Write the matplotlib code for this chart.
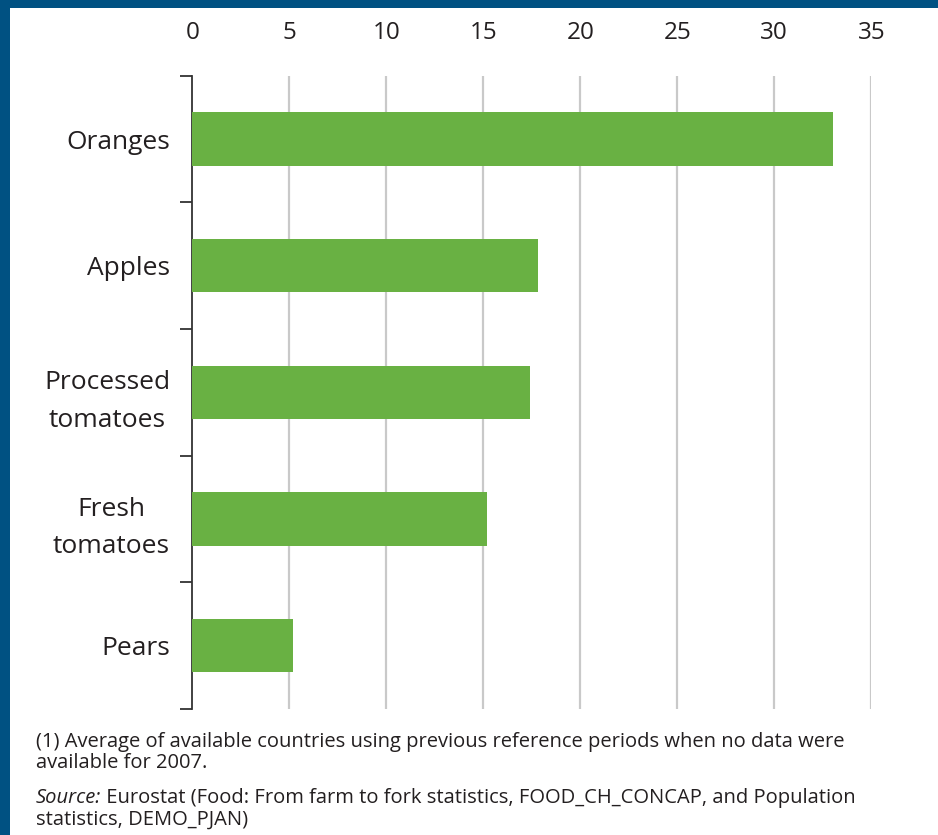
import matplotlib.pyplot as plt
from matplotlib.patches import Rectangle
import numpy as np

# Consumption per inhabitant, kg
products = ["Oranges", "Apples", "Processed\ntomatoes", "Fresh\ntomatoes", "Pears"]
values = [33.0, 17.8, 17.4, 15.2, 5.2]
x_ticks = [0, 5, 10, 15, 20, 25, 30, 35]

note_lines = ["(1) Average of available countries using previous reference periods when no data were",
              "available for 2007."]
source_label = "Source:"
source_lines = [" Eurostat (Food: From farm to fork statistics, FOOD_CH_CONCAP, and Population",
                "statistics, DEMO_PJAN)"]

blue = "#005182"
green = "#69b143"
grid_gray = "#c9c9c9"
text_col = "#231f20"

plt.rcParams['font.family'] = ['Open Sans', 'DejaVu Sans']

W, H = 938, 835
fig = plt.figure(figsize=(W / 100, H / 100), dpi=100)
fig.patch.set_facecolor(blue)
# white panel inside the blue frame (top and left edges)
fig.add_artist(Rectangle((10 / W, 0), 1, 1 - 8 / H, transform=fig.transFigure,
                         facecolor="white", edgecolor="none", zorder=0))

ax = fig.add_axes([192.3 / W, 1 - 709 / H, (871.3 - 192.3) / W, (709 - 75.7) / H])
ax.set_facecolor("none")

n = len(products)
pos = np.arange(n)
ax.barh(pos, values, height=0.42, color=green, zorder=3)
ax.set_ylim(n - 0.5, -0.5)
ax.set_xlim(0, 35)

# vertical gridlines
for t in x_ticks[1:]:
    ax.axvline(t, color=grid_gray, lw=1.6, zorder=1)

ax.xaxis.tick_top()
ax.set_xticks(x_ticks)
ax.set_xticklabels([str(t) for t in x_ticks], fontsize=17.5, color=text_col)
ax.tick_params(axis="x", length=0, pad=22)

# boundary ticks on the category axis, labels at the centres
ax.set_yticks(np.arange(-0.5, n, 1.0))
ax.set_yticklabels([])
ax.tick_params(axis="y", which="major", length=9, width=1.3, color="#333333")
ax.set_yticks(pos, minor=True)
ax.set_yticklabels(products, minor=True, fontsize=19, color=text_col,
                   multialignment="center", linespacing=1.65)
ax.tick_params(axis="y", which="minor", length=0, pad=16)

for s in ["top", "right", "bottom"]:
    ax.spines[s].set_visible(False)
ax.spines["left"].set_color("#333333")
ax.spines["left"].set_linewidth(1.3)

fs = 14.5
x0 = 36 / W
fig.text(x0, 1 - 742 / H, note_lines[0], fontsize=fs, color=text_col, va="center", ha="left")
fig.text(x0, 1 - 763 / H, note_lines[1], fontsize=fs, color=text_col, va="center", ha="left")

src = fig.text(x0, 1 - 798 / H, source_label, fontsize=fs, color=text_col,
               va="center", ha="left", style="italic")
fig.canvas.draw()
bb = src.get_window_extent()
fig.text(bb.x1 / W, 1 - 798 / H, source_lines[0], fontsize=fs, color=text_col,
         va="center", ha="left")
fig.text(x0, 1 - 820 / H, source_lines[1], fontsize=fs, color=text_col, va="center", ha="left")

fig.savefig("out.png", dpi=100, facecolor=fig.get_facecolor())
